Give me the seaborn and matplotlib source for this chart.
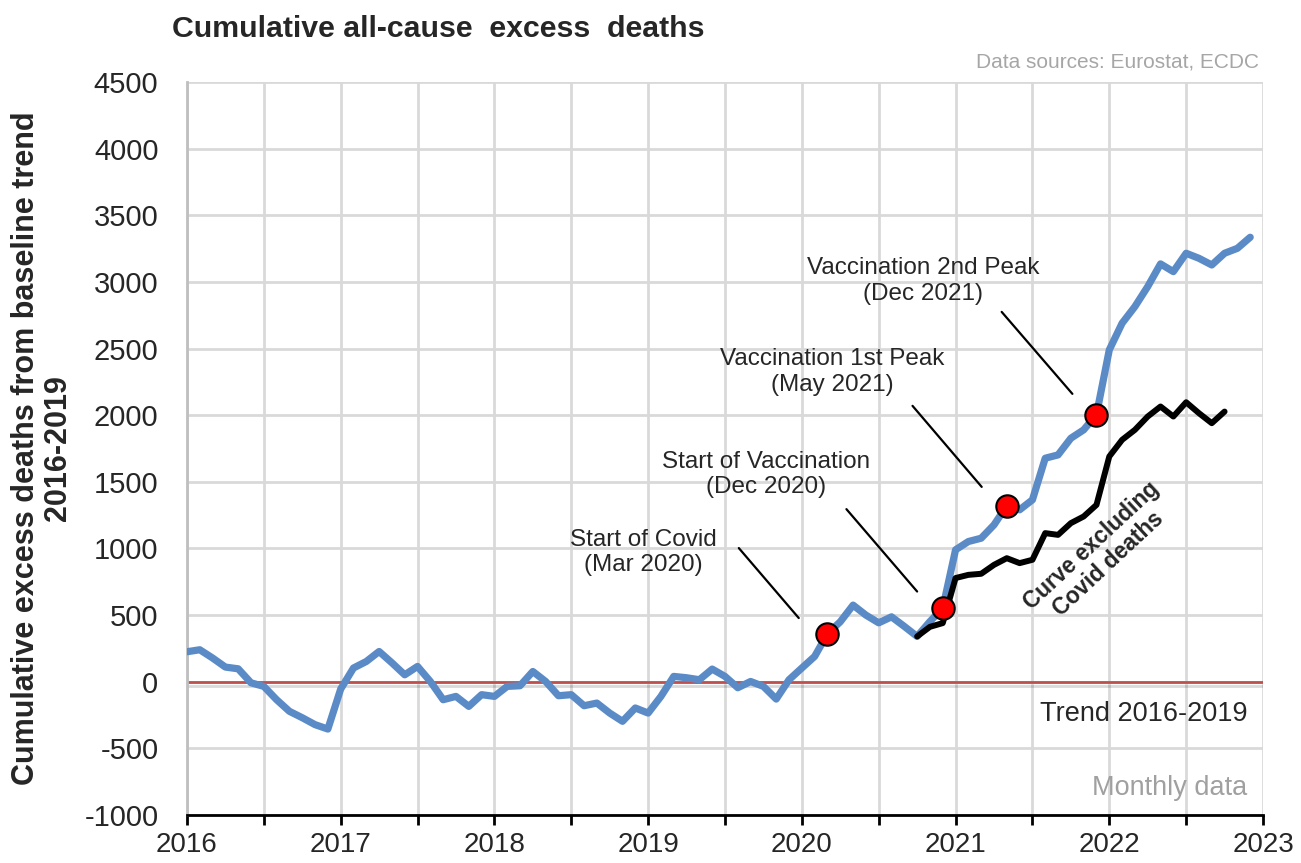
import numpy as np
import pandas as pd
import matplotlib
matplotlib.use('Agg')
import matplotlib.pyplot as plt
import matplotlib.patheffects as pe
import seaborn as sns

# Monthly cumulative excess deaths, Jan 2016 - Dec 2022
months = pd.date_range('2016-01-01', '2022-12-01', freq='MS')
all_cause = [
    225, 240, 178, 110, 97, -8, -35, -135, -222, -270, -322, -355,        # 2016
    -55, 103, 152, 227, 142, 52, 115, 2, -135, -110, -185, -97,          # 2017
    -110, -35, -30, 77, 2, -105, -97, -180, -160, -235, -297, -197,      # 2018
    -235, -110, 40, 30, 15, 95, 40, -45, 2, -35, -130, 15,               # 2019
    103, 190, 360, 450, 575, 500, 442, 487, 415, 340, 452, 552,          # 2020
    990, 1052, 1077, 1177, 1320, 1290, 1365, 1677, 1702, 1827, 1890, 2005,  # 2021
    2490, 2690, 2815, 2965, 3135, 3077, 3215, 3177, 3127, 3215, 3252, 3335,  # 2022
]
# curve without covid deaths, Oct 2020 - Oct 2022
excl_months = pd.date_range('2020-10-01', '2022-10-01', freq='MS')
excl_covid = [
    340, 412, 440,
    778, 802, 810, 877, 927, 890, 915, 1115, 1102, 1190, 1240, 1327,
    1690, 1815, 1890, 1990, 2065, 1990, 2097, 2015, 1940, 2027,
]

events = ['Start of Covid\n(Mar 2020)', 'Start of Vaccination\n(Dec 2020)',
          'Vaccination 1st Peak\n(May 2021)', 'Vaccination 2nd Peak\n(Dec 2021)']
event_months = ['2020-03-01', '2020-12-01', '2021-05-01', '2021-12-01']


def dec_year(d):
    d = pd.DatetimeIndex(d)
    return d.year + (d.month - 1) / 12


df = pd.DataFrame({'x': dec_year(months), 'y': all_cause})
df_ex = pd.DataFrame({'x': dec_year(excl_months), 'y': excl_covid})
ev_x = dec_year(pd.to_datetime(event_months))
ev_y = df.set_index('x').loc[ev_x, 'y'].values

sns.set_style('white')
plt.rcParams['font.family'] = ['Liberation Sans', 'DejaVu Sans']
plt.rcParams['axes.unicode_minus'] = False

fig = plt.figure(figsize=(13.01, 8.63), dpi=100)
ax = fig.add_axes([0.1437, 0.0556, 0.8271, 0.8494])

blue = '#5b8bc7'
sns.lineplot(data=df, x='x', y='y', color=blue, lw=5.2, ax=ax, zorder=3,
             solid_joinstyle='round')
sns.lineplot(data=df_ex, x='x', y='y', color='black', lw=4.3, ax=ax, zorder=4,
             solid_joinstyle='round')
ax.axhline(0, color='#c0504d', lw=2, zorder=2,
           path_effects=[pe.SimpleLineShadow(offset=(0, -3), alpha=0.15, shadow_color='black'),
                         pe.Normal()])
sns.scatterplot(x=ev_x, y=ev_y, s=260, color='#ff0000', edgecolor='black',
                linewidth=1.5, ax=ax, zorder=5)

# annotation text centres and leader lines (data units)
text_pos = [(2018.97, 971), (2019.77, 1553), (2020.20, 2325), (2020.79, 3007)]
line_seg = [((2019.59, 1003), (2019.98, 478)),
            ((2020.29, 1295), (2020.75, 677)),
            ((2020.72, 2070), (2021.17, 1462)),
            ((2021.30, 2775), (2021.76, 2160))]
for lab, tp, seg in zip(events, text_pos, line_seg):
    ax.text(tp[0], tp[1], lab, ha='center', va='center', fontsize=17.5,
            color='#262626', linespacing=1.2)
    ax.plot([seg[0][0], seg[1][0]], [seg[0][1], seg[1][1]], color='black', lw=1.6, zorder=2)

ax.text(2021.94, 955, 'Curve excluding\nCovid deaths', rotation=43, ha='center',
        va='center', fontsize=16.3, fontweight='bold', linespacing=1.1,
        rotation_mode='anchor')
ax.text(2022.9, -240, 'Trend 2016-2019', ha='right', va='center', fontsize=19.5)
ax.text(2022.9, -795, 'Monthly data', ha='right', va='center', fontsize=19.5, color='#a0a0a0')

ax.set_xlim(2016, 2023)
ax.set_ylim(-1000, 4500)
ax.set_xticks(range(2016, 2024))
ax.set_xticks(np.arange(2016.5, 2023, 1), minor=True)
ax.set_yticks(range(-1000, 4501, 500))
ax.grid(True, which='both', color='#d9d9d9', lw=2)
ax.set_axisbelow(True)
ax.tick_params(axis='x', which='both', direction='out', length=7, width=2, color='black',
               bottom=True, labelsize=20, pad=5)
ax.tick_params(axis='y', labelsize=21, left=False, pad=17)
for s in ['top', 'right']:
    ax.spines[s].set_visible(False)
ax.spines['left'].set_color('#bfbfbf')
ax.spines['left'].set_linewidth(2)
ax.spines['bottom'].set_color('black')
ax.spines['bottom'].set_linewidth(2)
ax.set_xlabel('')
ax.set_ylabel('Cumulative excess deaths from baseline trend\n2016-2019',
              fontsize=22, fontweight='bold', labelpad=8, linespacing=1.1)

fig.text(0.132, 0.966, 'Cumulative all-cause  excess  deaths', fontsize=21.8,
         fontweight='bold', va='center', ha='left')
fig.text(0.968, 0.928, 'Data sources: Eurostat, ECDC', fontsize=15, color='#a6a6a6',
         ha='right', va='center')

fig.savefig('out.png', dpi=100)
